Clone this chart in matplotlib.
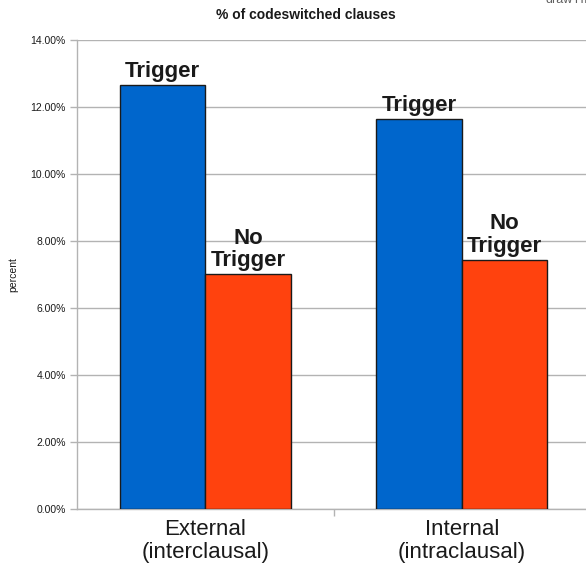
import matplotlib
matplotlib.use("Agg")
import matplotlib.pyplot as plt
from matplotlib.ticker import FuncFormatter, FixedLocator

plt.rcParams['font.family'] = ['Liberation Sans', 'DejaVu Sans']

categories = ["External\n(interclausal)", "Internal\n(intraclausal)"]
series_names = ["Trigger", "No\nTrigger"]
trigger = [12.66, 11.65]
no_trigger = [7.02, 7.44]
y_ticks = [0, 2, 4, 6, 8, 10, 12, 14]

blue = "#0066cc"
red = "#ff420e"
grid_c = "#b3b3b3"

fig = plt.figure(figsize=(5.86, 5.66), dpi=100)
ax = fig.add_axes([77 / 586, 57 / 566, 513 / 586, 469 / 566])

x = list(range(len(categories)))
w = 0.334
xs_t = [i - w / 2 for i in x]
xs_n = [i + w / 2 for i in x]
ax.bar(xs_t, trigger, width=w, color=blue, edgecolor="#1a1a1a", linewidth=1.0, zorder=3)
ax.bar(xs_n, no_trigger, width=w, color=red, edgecolor="#1a1a1a", linewidth=1.0, zorder=3)

for xi, v in zip(xs_t, trigger):
    ax.text(xi, v + 0.08, series_names[0], ha="center", va="bottom",
            fontsize=16, fontweight="bold", color="#1a1a1a", linespacing=1.1)
for xi, v in zip(xs_n, no_trigger):
    ax.text(xi, v + 0.08, series_names[1], ha="center", va="bottom",
            fontsize=16, fontweight="bold", color="#1a1a1a", linespacing=1.1)

ax.set_xlim(-0.5, 1.5)
ax.set_ylim(0, 14)
ax.yaxis.set_major_locator(FixedLocator(y_ticks))
ax.yaxis.set_major_formatter(FuncFormatter(lambda v, p: f"{v:.2f}%"))
ax.grid(axis="y", color=grid_c, linewidth=1.0, zorder=0)
ax.set_axisbelow(True)

# category labels below the axis, minor tick at the group boundary
ax.set_xticks(x)
ax.set_xticklabels(categories, fontsize=16, color="#1a1a1a", linespacing=1.15)
ax.tick_params(axis="x", length=0, pad=7)
ax.set_xticks([0.5], minor=True)
ax.tick_params(axis="x", which="minor", length=5, color=grid_c, width=1)
ax.tick_params(axis="y", length=5, color=grid_c, width=1, labelsize=7.5,
               labelcolor="#1a1a1a", pad=3)

for s in ["top", "right"]:
    ax.spines[s].set_visible(False)
for s in ["left", "bottom"]:
    ax.spines[s].set_color(grid_c)
    ax.spines[s].set_linewidth(1.0)

ax.set_ylabel("percent", fontsize=7.5, color="#1a1a1a", labelpad=9)

fig.text(306 / 586, 1 - 15 / 566, "% of codeswitched clauses", ha="center", va="center",
         fontsize=10, fontweight="bold", color="#1a1a1a")

# small caption at the top right corner, running off the top edge
fig.text(546 / 586, 1 - 3 / 566, "drawYm", ha="left", va="baseline",
         fontsize=9, color="#606060")

fig.savefig("out.png", dpi=100)
